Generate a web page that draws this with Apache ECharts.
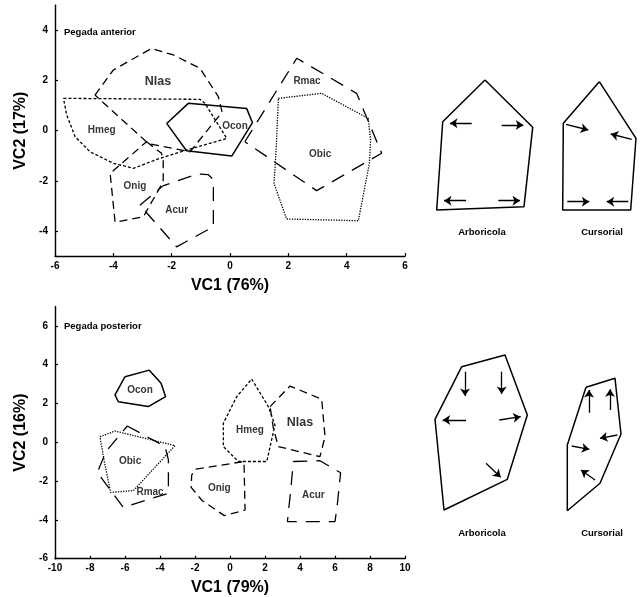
<!DOCTYPE html>
<html>
<head>
<meta charset="utf-8">
<script src="https://cdn.jsdelivr.net/npm/echarts@6/dist/echarts.min.js"></script>
<style>
    html, body { margin: 0; padding: 0; background: #fff; }
    #chart { width: 640px; height: 597px; }
</style>
</head>
<body>
<div id="chart"></div>
<script>
// Pegada anterior (VC1 x VC2)
const antNlas = [[-4.63, 1.42], [-4.0, 2.42], [-2.69, 3.28], [-1.94, 3.02], [-1.03, 2.49], [-0.4, 1.36], [-0.27, 0.74], [-1.37, -0.84], [-2.8, -0.51]];
const antHmeg = [[-5.71, 1.29], [-1.03, 1.25], [-0.86, 1.09], [-0.11, -0.31], [-1.49, -0.77], [-2.4, -1.1], [-3.31, -1.5], [-4.0, -1.3], [-4.8, -0.84], [-5.31, -0.24], [-5.6, 0.63]];
const antOcon = [[-2.17, 0.29], [-1.43, 1.09], [0.57, 0.89], [0.77, 0.32], [0.06, -1.01], [-1.49, -0.8]];
const antRmac = [[0.51, -0.44], [2.29, 2.89], [4.34, 1.49], [5.2, -0.9], [2.97, -2.39]];
const antObic = [[1.66, 1.29], [3.14, 1.49], [4.74, 0.49], [4.82, -0.37], [4.78, -1.3], [4.4, -3.59], [1.94, -3.52], [1.51, -2.1], [1.58, -0.77]];
const antOnig = [[-2.86, -0.44], [-2.35, -0.9], [-2.29, -1.2], [-2.29, -2.03], [-2.97, -3.43], [-3.94, -3.65], [-4.11, -1.7]];
const antAcur = [[-3.09, -2.97], [-2.3, -2.2], [-1.14, -1.73], [-0.75, -1.75], [-0.57, -1.95], [-0.57, -3.83], [-1.83, -4.63]];

// Pegada posterior
const posOcon = [[-6.0, 3.38], [-4.61, 3.72], [-3.94, 3.04], [-3.68, 2.35], [-4.67, 1.84], [-6.38, 2.09], [-6.57, 2.44]];
const posObic = [[-7.43, 0.29], [-6.57, 0.58], [-3.14, -0.17], [-5.52, -2.49], [-6.82, -2.58], [-7.2, -0.91]];
const posRmac = [[-5.87, 0.84], [-3.71, -0.22], [-3.52, -0.91], [-3.52, -2.63], [-6.1, -3.35], [-7.58, -1.56], [-7.09, -0.48]];
const posHmeg = [[1.24, 3.26], [2.19, 1.84], [2.57, 0.89], [2.1, -0.99], [0.48, -0.99], [-0.38, -0.22], [-0.38, 0.98], [0.38, 2.35]];
const posNlas = [[2.29, 1.84], [3.43, 2.9], [5.24, 2.22], [5.43, 0.29], [5.14, -0.74], [2.76, -0.22], [2.48, 0.72]];
const posOnig = [[-1.95, -1.38], [0.8, -0.99], [0.86, -3.49], [-0.33, -3.78], [-1.6, -3.0], [-2.22, -2.32], [-2.19, -1.69]];
const posAcur = [[3.62, -0.99], [5.14, -0.95], [6.32, -1.57], [6.13, -3.23], [6.0, -4.09], [3.28, -4.09], [3.47, -2.46]];

// group labels [x, y]
const antLabels = { Nlas: [-2.47, 1.95], Rmac: [2.64, 1.99], Hmeg: [-4.4, 0.0], Ocon: [0.17, 0.19], Obic: [3.09, -0.93], Onig: [-3.26, -2.23], Acur: [-1.83, -3.16] };
const posLabels = { Ocon: [-5.14, 2.66], Obic: [-5.71, -0.96], Rmac: [-4.57, -2.55], Hmeg: [1.14, 0.63], Nlas: [4.0, 1.01], Onig: [-0.61, -2.37], Acur: [4.76, -2.75] };

// tick values
const antYTicks = [-4, -2, 0, 2, 4];
const posYTicks = [-6, -4, -2, 0, 2, 4, 6];

// schematic shapes (arbitrary units)
const schTopArb = [[65, 20], [22.7, 61.7], [16.7, 150], [104, 146.7], [112.7, 67.3]];
const schTopArbArrows = [[[51.7, 63.3], [30, 63.3]], [[81.7, 65], [103.3, 65]], [[46, 140.7], [24, 140.7]], [[78.3, 140.7], [100, 140.7]]];
const schTopCur = [[179.3, 21.7], [143.3, 63.3], [142.7, 150], [210.7, 150], [216, 78.3]];
const schTopCurArrows = [[[146, 64.3], [168.3, 70]], [[211.7, 79.3], [190.7, 74]], [[147.3, 141.7], [169.3, 141.7]], [[208.3, 141.7], [186.7, 141.7]]];
const schBotArb = [[41.7, 26.7], [85, 15], [107.3, 75], [87.3, 139.3], [24, 170], [15, 79.3]];
const schBotArbArrows = [[[45, 31.7], [45, 56]], [[81.7, 31.7], [81.7, 54]], [[46, 80], [22.7, 80]], [[79.3, 80], [100.7, 76.7]], [[66, 123.3], [80.7, 137.3]]];
const schBotCur = [[166, 47.3], [195, 38.3], [201, 94], [180, 143.3], [147.3, 170.7], [147.3, 105]];
const schBotCurArrows = [[[169, 72.7], [169, 50]], [[190, 70], [190, 49.3]], [[197.3, 95], [180, 98.3]], [[151.7, 106], [169.3, 109.3]], [[175, 140], [161, 130]]];

const FONT = '"Liberation Sans", Arial, sans-serif';
const dash = {
    solid: 'solid',
    mid: [8, 5],
    fine: [3, 2],
    dot: [1.3, 1.3],
    long: [14, 9]
};

function closed(pts) {
    return pts.concat([pts[0]]);
}

function poly(data, style, gi, width) {
    return {
        type: 'line',
        xAxisIndex: gi,
        yAxisIndex: gi,
        data: closed(data),
        showSymbol: false,
        symbol: 'none',
        silent: true,
        lineStyle: { color: '#000', width: width || 1.3, type: style }
    };
}

function labels(obj, gi) {
    return {
        type: 'scatter',
        xAxisIndex: gi,
        yAxisIndex: gi,
        symbolSize: 1,
        itemStyle: { color: 'rgba(0,0,0,0)' },
        silent: true,
        data: Object.keys(obj).map(function (k) {
            return {
                name: k,
                value: obj[k],
                label: { fontSize: k === 'Nlas' ? 12.5 : 10 }
            };
        }),
        label: {
            show: true,
            position: 'inside',
            formatter: '{b}',
            color: '#000',
            fontWeight: 'bold',
            fontFamily: FONT
        }
    };
}

function arrows(list, gi) {
    return {
        type: 'lines',
        coordinateSystem: 'cartesian2d',
        xAxisIndex: gi,
        yAxisIndex: gi,
        symbol: ['none', 'arrow'],
        symbolSize: 7.5,
        silent: true,
        lineStyle: { color: '#000', width: 1.3, opacity: 1 },
        data: list.map(function (c) { return { coords: c }; })
    };
}

const axisLine = { onZero: false, lineStyle: { color: '#000', width: 1.4 } };
const tickLabel = { color: '#000', fontSize: 10, fontWeight: 'bold', fontFamily: FONT };
const nameStyle = { color: '#000', fontSize: 16, fontWeight: 'bold', fontFamily: FONT };

function valueX(gi, min, max, name) {
    return {
        gridIndex: gi, type: 'value', min: min, max: max, interval: 2,
        name: name, nameLocation: 'middle', nameGap: 21, nameTextStyle: nameStyle,
        axisLine: axisLine,
        axisTick: { inside: true, length: 3, lineStyle: { color: '#000', width: 1.2 } },
        axisLabel: Object.assign({ margin: 5 }, tickLabel),
        splitLine: { show: false }
    };
}

function valueY(gi, min, max, ticks, name) {
    return {
        gridIndex: gi, type: 'value', min: min, max: max,
        name: name, nameLocation: 'middle', nameGap: 23, nameRotate: 90, nameTextStyle: nameStyle,
        axisLine: axisLine,
        axisTick: { inside: true, length: 3, customValues: ticks, lineStyle: { color: '#000', width: 1.2 } },
        axisLabel: Object.assign({ margin: 7, customValues: ticks }, tickLabel),
        splitLine: { show: false }
    };
}

function hiddenX(gi) {
    return { gridIndex: gi, type: 'value', min: 0, max: 220, show: false, splitLine: { show: false } };
}
function hiddenY(gi) {
    return { gridIndex: gi, type: 'value', min: 0, max: 180, inverse: true, show: false, splitLine: { show: false } };
}

const chart = echarts.init(document.getElementById('chart'), null, { renderer: 'canvas' });

chart.setOption({
    backgroundColor: '#fff',
    animation: false,
    grid: [
        { left: 55, top: 5.3, width: 350, height: 250.8 },
        { left: 55, top: 306.5, width: 350, height: 252.2 },
        { left: 420, top: 60, width: 220, height: 180 },
        { left: 420, top: 340, width: 220, height: 180 }
    ],
    xAxis: [
        valueX(0, -6, 6, 'VC1 (76%)'),
        valueX(1, -10, 10, 'VC1 (79%)'),
        hiddenX(2),
        hiddenX(3)
    ],
    yAxis: [
        valueY(0, -5, 5, antYTicks, 'VC2 (17%)'),
        valueY(1, -6, 7, posYTicks, 'VC2 (16%)'),
        hiddenY(2),
        hiddenY(3)
    ],
    graphic: [
        { type: 'text', left: 64, top: 27, style: { text: 'Pegada anterior', fill: '#000', font: 'bold 9.5px ' + FONT } },
        { type: 'text', left: 64, top: 321, style: { text: 'Pegada posterior', fill: '#000', font: 'bold 9.5px ' + FONT } },
        { type: 'text', x: 482, y: 232, style: { text: 'Arboricola', fill: '#000', font: 'bold 9.5px ' + FONT, align: 'center', verticalAlign: 'middle' } },
        { type: 'text', x: 602, y: 232, style: { text: 'Cursorial', fill: '#000', font: 'bold 9.5px ' + FONT, align: 'center', verticalAlign: 'middle' } },
        { type: 'text', x: 482, y: 533, style: { text: 'Arboricola', fill: '#000', font: 'bold 9.5px ' + FONT, align: 'center', verticalAlign: 'middle' } },
        { type: 'text', x: 602, y: 533, style: { text: 'Cursorial', fill: '#000', font: 'bold 9.5px ' + FONT, align: 'center', verticalAlign: 'middle' } }
    ],
    series: [
        poly(antNlas, dash.mid, 0),
        poly(antHmeg, dash.fine, 0),
        poly(antOcon, dash.solid, 0, 1.5),
        poly(antRmac, dash.long, 0),
        poly(antObic, dash.dot, 0),
        poly(antOnig, dash.mid, 0),
        poly(antAcur, dash.long, 0),
        labels(antLabels, 0),

        poly(posOcon, dash.solid, 1, 1.5),
        poly(posObic, dash.dot, 1),
        poly(posRmac, dash.long, 1),
        poly(posHmeg, dash.fine, 1),
        poly(posNlas, dash.mid, 1),
        poly(posOnig, dash.mid, 1),
        poly(posAcur, dash.long, 1),
        labels(posLabels, 1),

        poly(schTopArb, dash.solid, 2, 1.5),
        poly(schTopCur, dash.solid, 2, 1.5),
        arrows(schTopArbArrows, 2),
        arrows(schTopCurArrows, 2),
        poly(schBotArb, dash.solid, 3, 1.5),
        poly(schBotCur, dash.solid, 3, 1.5),
        arrows(schBotArbArrows, 3),
        arrows(schBotCurArrows, 3)
    ]
});
</script>
</body>
</html>
